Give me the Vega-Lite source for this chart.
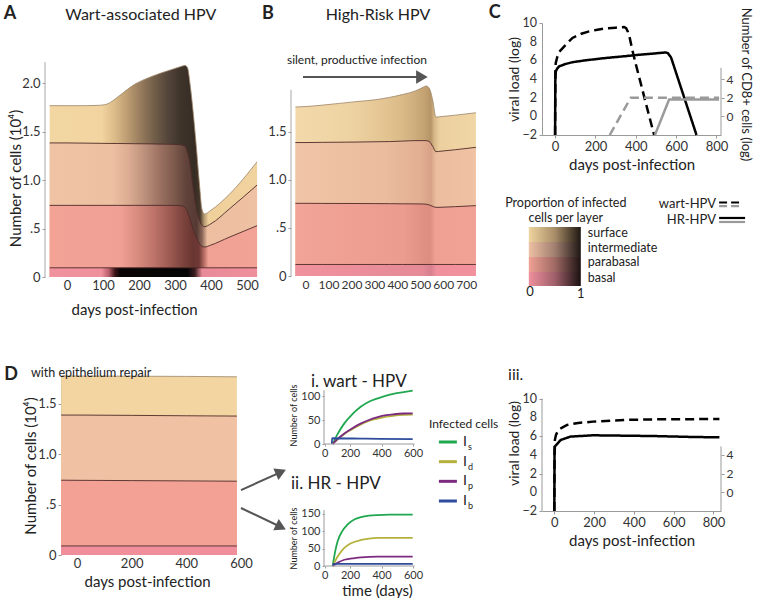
{
 "$schema": "https://vega.github.io/schema/vega-lite/v6.json",
 "padding": {"left": 3, "top": 4, "right": 5, "bottom": 0},
 "background": "white",
 "config": {
  "font": "Lato",
  "view": {"stroke": null},
  "axis": {"labelFont": "Lato", "titleFont": "Lato", "labelFontSize": 13, "titleFontSize": 15, "titleFontWeight": "normal", "labelColor": "#333333", "titleColor": "#222222", "domainColor": "#9a9a9a", "tickColor": "#9a9a9a", "tickSize": 3, "grid": false, "labelPadding": 2, "labelOverlap": false},
  "text": {"font": "Lato", "color": "#222222"}
 },
 "resolve": {"scale": {"color": "independent", "strokeDash": "independent"}},
 "datasets": {
  "wartEpi": [
   {"day": -48, "s": 1.77, "i": 1.385, "p": 0.74, "b": 0.095},
   {"day": 0, "s": 1.77, "i": 1.385, "p": 0.74, "b": 0.095},
   {"day": 50, "s": 1.77, "i": 1.383, "p": 0.74, "b": 0.095},
   {"day": 95, "s": 1.775, "i": 1.381, "p": 0.74, "b": 0.095},
   {"day": 114, "s": 1.79, "i": 1.38, "p": 0.74, "b": 0.095},
   {"day": 141, "s": 1.86, "i": 1.379, "p": 0.74, "b": 0.095},
   {"day": 188, "s": 1.99, "i": 1.377, "p": 0.74, "b": 0.095},
   {"day": 234, "s": 2.07, "i": 1.375, "p": 0.74, "b": 0.095},
   {"day": 280, "s": 2.13, "i": 1.372, "p": 0.74, "b": 0.095},
   {"day": 300, "s": 2.155, "i": 1.37, "p": 0.74, "b": 0.095},
   {"day": 317, "s": 2.175, "i": 1.365, "p": 0.737, "b": 0.095},
   {"day": 328, "s": 2.185, "i": 1.35, "p": 0.72, "b": 0.095},
   {"day": 335, "s": 2.16, "i": 1.29, "p": 0.67, "b": 0.095},
   {"day": 342, "s": 1.99, "i": 1.17, "p": 0.6, "b": 0.095},
   {"day": 349, "s": 1.76, "i": 0.96, "p": 0.51, "b": 0.095},
   {"day": 359, "s": 1.36, "i": 0.72, "p": 0.41, "b": 0.095},
   {"day": 368, "s": 0.96, "i": 0.59, "p": 0.345, "b": 0.095},
   {"day": 375, "s": 0.7, "i": 0.535, "p": 0.315, "b": 0.095},
   {"day": 382, "s": 0.65, "i": 0.52, "p": 0.31, "b": 0.095},
   {"day": 400, "s": 0.69, "i": 0.55, "p": 0.33, "b": 0.095},
   {"day": 450, "s": 0.85, "i": 0.7, "p": 0.41, "b": 0.095},
   {"day": 528, "s": 1.19, "i": 0.95, "p": 0.53, "b": 0.095}
  ],
  "hrEpi": [
   {"day": -46, "s": 1.76, "i": 1.39, "p": 0.757, "b": 0.12},
   {"day": 0, "s": 1.765, "i": 1.39, "p": 0.757, "b": 0.12},
   {"day": 73, "s": 1.78, "i": 1.392, "p": 0.756, "b": 0.12},
   {"day": 218, "s": 1.816, "i": 1.395, "p": 0.755, "b": 0.12},
   {"day": 300, "s": 1.835, "i": 1.398, "p": 0.754, "b": 0.12},
   {"day": 363, "s": 1.86, "i": 1.4, "p": 0.753, "b": 0.12},
   {"day": 420, "s": 1.89, "i": 1.405, "p": 0.752, "b": 0.12},
   {"day": 479, "s": 1.93, "i": 1.41, "p": 0.751, "b": 0.12},
   {"day": 510, "s": 1.965, "i": 1.41, "p": 0.75, "b": 0.12},
   {"day": 523, "s": 1.98, "i": 1.41, "p": 0.748, "b": 0.12},
   {"day": 537, "s": 1.955, "i": 1.4, "p": 0.74, "b": 0.12},
   {"day": 552, "s": 1.83, "i": 1.35, "p": 0.725, "b": 0.12},
   {"day": 566, "s": 1.655, "i": 1.295, "p": 0.715, "b": 0.12},
   {"day": 588, "s": 1.66, "i": 1.3, "p": 0.716, "b": 0.12},
   {"day": 650, "s": 1.675, "i": 1.315, "p": 0.722, "b": 0.12},
   {"day": 740, "s": 1.7, "i": 1.34, "p": 0.733, "b": 0.12}
  ],
  "repairEpi": [
   {"day": -58, "s": 1.778, "i": 1.39, "p": 0.743, "b": 0.09},
   {"day": 0, "s": 1.778, "i": 1.39, "p": 0.742, "b": 0.09},
   {"day": 200, "s": 1.776, "i": 1.387, "p": 0.739, "b": 0.09},
   {"day": 400, "s": 1.774, "i": 1.383, "p": 0.736, "b": 0.09},
   {"day": 585, "s": 1.77, "i": 1.38, "p": 0.733, "b": 0.09}
  ],
  "loadC": [
   {"day": 0, "value": -2, "series": "wart-HPV", "kind": "viral"},
   {"day": 1, "value": 4.5, "series": "wart-HPV", "kind": "viral"},
   {"day": 3, "value": 5.7, "series": "wart-HPV", "kind": "viral"},
   {"day": 10, "value": 6.3, "series": "wart-HPV", "kind": "viral"},
   {"day": 20, "value": 6.9, "series": "wart-HPV", "kind": "viral"},
   {"day": 50, "value": 7.6, "series": "wart-HPV", "kind": "viral"},
   {"day": 86, "value": 8.4, "series": "wart-HPV", "kind": "viral"},
   {"day": 130, "value": 8.85, "series": "wart-HPV", "kind": "viral"},
   {"day": 169, "value": 9.1, "series": "wart-HPV", "kind": "viral"},
   {"day": 210, "value": 9.28, "series": "wart-HPV", "kind": "viral"},
   {"day": 251, "value": 9.42, "series": "wart-HPV", "kind": "viral"},
   {"day": 300, "value": 9.5, "series": "wart-HPV", "kind": "viral"},
   {"day": 342, "value": 9.57, "series": "wart-HPV", "kind": "viral"},
   {"day": 352, "value": 9.45, "series": "wart-HPV", "kind": "viral"},
   {"day": 360, "value": 9.1, "series": "wart-HPV", "kind": "viral"},
   {"day": 370, "value": 8.4, "series": "wart-HPV", "kind": "viral"},
   {"day": 383, "value": 7.1, "series": "wart-HPV", "kind": "viral"},
   {"day": 400, "value": 5.6, "series": "wart-HPV", "kind": "viral"},
   {"day": 450, "value": 1.4, "series": "wart-HPV", "kind": "viral"},
   {"day": 491, "value": -2, "series": "wart-HPV", "kind": "viral"},
   {"day": 0, "value": -2, "series": "HR-HPV", "kind": "viral"},
   {"day": 1, "value": 3.8, "series": "HR-HPV", "kind": "viral"},
   {"day": 3, "value": 4.8, "series": "HR-HPV", "kind": "viral"},
   {"day": 10, "value": 5.1, "series": "HR-HPV", "kind": "viral"},
   {"day": 20, "value": 5.35, "series": "HR-HPV", "kind": "viral"},
   {"day": 50, "value": 5.6, "series": "HR-HPV", "kind": "viral"},
   {"day": 86, "value": 5.8, "series": "HR-HPV", "kind": "viral"},
   {"day": 150, "value": 6.0, "series": "HR-HPV", "kind": "viral"},
   {"day": 251, "value": 6.25, "series": "HR-HPV", "kind": "viral"},
   {"day": 350, "value": 6.45, "series": "HR-HPV", "kind": "viral"},
   {"day": 417, "value": 6.6, "series": "HR-HPV", "kind": "viral"},
   {"day": 500, "value": 6.75, "series": "HR-HPV", "kind": "viral"},
   {"day": 549, "value": 6.85, "series": "HR-HPV", "kind": "viral"},
   {"day": 560, "value": 6.75, "series": "HR-HPV", "kind": "viral"},
   {"day": 575, "value": 6.3, "series": "HR-HPV", "kind": "viral"},
   {"day": 701, "value": -2, "series": "HR-HPV", "kind": "viral"},
   {"day": 271, "value": -2, "series": "wart-HPV", "kind": "CD8"},
   {"day": 375, "value": 2, "series": "wart-HPV", "kind": "CD8"},
   {"day": 813, "value": 2, "series": "wart-HPV", "kind": "CD8"},
   {"day": 495, "value": -2, "series": "HR-HPV", "kind": "CD8"},
   {"day": 565, "value": 1.8, "series": "HR-HPV", "kind": "CD8"},
   {"day": 813, "value": 1.8, "series": "HR-HPV", "kind": "CD8"}
  ],
  "loadIII": [
   {"day": 0, "value": -2, "series": "wart-HPV"},
   {"day": 1, "value": 4.5, "series": "wart-HPV"},
   {"day": 3, "value": 5.6, "series": "wart-HPV"},
   {"day": 8, "value": 6.1, "series": "wart-HPV"},
   {"day": 16, "value": 6.47, "series": "wart-HPV"},
   {"day": 30, "value": 6.8, "series": "wart-HPV"},
   {"day": 64, "value": 7.18, "series": "wart-HPV"},
   {"day": 120, "value": 7.4, "series": "wart-HPV"},
   {"day": 194, "value": 7.54, "series": "wart-HPV"},
   {"day": 355, "value": 7.72, "series": "wart-HPV"},
   {"day": 500, "value": 7.78, "series": "wart-HPV"},
   {"day": 830, "value": 7.82, "series": "wart-HPV"},
   {"day": 0, "value": -2, "series": "HR-HPV"},
   {"day": 1, "value": 4.0, "series": "HR-HPV"},
   {"day": 3, "value": 4.9, "series": "HR-HPV"},
   {"day": 10, "value": 5.05, "series": "HR-HPV"},
   {"day": 32, "value": 5.58, "series": "HR-HPV"},
   {"day": 81, "value": 5.94, "series": "HR-HPV"},
   {"day": 194, "value": 6.08, "series": "HR-HPV"},
   {"day": 355, "value": 6.04, "series": "HR-HPV"},
   {"day": 500, "value": 6.0, "series": "HR-HPV"},
   {"day": 700, "value": 5.9, "series": "HR-HPV"},
   {"day": 830, "value": 5.86, "series": "HR-HPV"}
  ],
  "cellsI": [
   {"day": 90, "count": 0, "type": "Is"}, {"day": 120, "count": 20, "type": "Is"}, {"day": 164, "count": 43, "type": "Is"}, {"day": 215, "count": 62, "type": "Is"}, {"day": 270, "count": 78, "type": "Is"}, {"day": 320, "count": 88, "type": "Is"}, {"day": 376, "count": 95, "type": "Is"}, {"day": 430, "count": 101, "type": "Is"}, {"day": 481, "count": 105, "type": "Is"}, {"day": 540, "count": 108, "type": "Is"}, {"day": 598, "count": 111, "type": "Is"},
   {"day": 90, "count": 0, "type": "Id"}, {"day": 120, "count": 9, "type": "Id"}, {"day": 164, "count": 21, "type": "Id"}, {"day": 215, "count": 31, "type": "Id"}, {"day": 270, "count": 41, "type": "Id"}, {"day": 320, "count": 48, "type": "Id"}, {"day": 376, "count": 53, "type": "Id"}, {"day": 430, "count": 57, "type": "Id"}, {"day": 481, "count": 59, "type": "Id"}, {"day": 540, "count": 60.5, "type": "Id"}, {"day": 598, "count": 61, "type": "Id"},
   {"day": 90, "count": 0, "type": "Ip"}, {"day": 120, "count": 10, "type": "Ip"}, {"day": 164, "count": 22, "type": "Ip"}, {"day": 215, "count": 33, "type": "Ip"}, {"day": 270, "count": 43, "type": "Ip"}, {"day": 320, "count": 50, "type": "Ip"}, {"day": 376, "count": 56, "type": "Ip"}, {"day": 430, "count": 60, "type": "Ip"}, {"day": 481, "count": 62, "type": "Ip"}, {"day": 540, "count": 63.5, "type": "Ip"}, {"day": 598, "count": 64, "type": "Ip"},
   {"day": 85, "count": 0, "type": "Ib"}, {"day": 86, "count": 12, "type": "Ib"}, {"day": 300, "count": 11, "type": "Ib"}, {"day": 598, "count": 10, "type": "Ib"}
  ],
  "cellsII": [
   {"day": 90, "count": 0, "type": "Is"}, {"day": 105, "count": 40, "type": "Is"}, {"day": 122, "count": 72, "type": "Is"}, {"day": 150, "count": 100, "type": "Is"}, {"day": 185, "count": 120, "type": "Is"}, {"day": 230, "count": 135, "type": "Is"}, {"day": 270, "count": 141, "type": "Is"}, {"day": 320, "count": 145, "type": "Is"}, {"day": 376, "count": 147, "type": "Is"}, {"day": 450, "count": 148, "type": "Is"}, {"day": 598, "count": 148, "type": "Is"},
   {"day": 90, "count": 0, "type": "Id"}, {"day": 110, "count": 18, "type": "Id"}, {"day": 130, "count": 33, "type": "Id"}, {"day": 164, "count": 52, "type": "Id"}, {"day": 200, "count": 64, "type": "Id"}, {"day": 270, "count": 75, "type": "Id"}, {"day": 320, "count": 79, "type": "Id"}, {"day": 376, "count": 81, "type": "Id"}, {"day": 598, "count": 81, "type": "Id"},
   {"day": 90, "count": 0, "type": "Ip"}, {"day": 120, "count": 9, "type": "Ip"}, {"day": 164, "count": 18, "type": "Ip"}, {"day": 230, "count": 23, "type": "Ip"}, {"day": 270, "count": 25, "type": "Ip"}, {"day": 376, "count": 27, "type": "Ip"}, {"day": 598, "count": 27, "type": "Ip"},
   {"day": 92, "count": 0, "type": "Ib"}, {"day": 93, "count": 6, "type": "Ib"}, {"day": 598, "count": 6, "type": "Ib"}
  ],
  "cellTypes": [
   {"type": "Is", "sub": "s", "rank": 1},
   {"type": "Id", "sub": "d", "rank": 2},
   {"type": "Ip", "sub": "p", "rank": 3},
   {"type": "Ib", "sub": "b", "rank": 4}
  ],
  "ticksLoad": [{"v": -2}, {"v": 0}, {"v": 2}, {"v": 4}, {"v": 6}, {"v": 8}, {"v": 10}],
  "ticksDaysB": [{"v": 0}, {"v": 100}, {"v": 200}, {"v": 300}, {"v": 400}, {"v": 500}, {"v": 600}, {"v": 700}]
 },
 "columns": 3,
 "align": "each",
 "bounds": "flush",
 "spacing": {"row": 99, "column": 0},
 "concat": [
  {
   "width": 246, "height": 254,
   "data": {"name": "wartEpi"},
   "layer": [
    {"mark": {"type": "area", "interpolate": "monotone", "fillOpacity": 1, "line": {"color": "#9c8468", "strokeWidth": 0.8},
      "fill": {"gradient": "linear", "x1": 0, "y1": 0, "x2": 1, "y2": 0, "stops": [
       {"offset": 0, "color": "#f3d7a3"}, {"offset": 0.25, "color": "#f1d49f"}, {"offset": 0.31, "color": "#ddbd8a"}, {"offset": 0.37, "color": "#bf9f73"}, {"offset": 0.43, "color": "#9c8060"}, {"offset": 0.5, "color": "#74604a"}, {"offset": 0.57, "color": "#54453a"}, {"offset": 0.63, "color": "#3f342a"}, {"offset": 0.7, "color": "#372c24"}, {"offset": 0.725, "color": "#453729"}, {"offset": 0.745, "color": "#b59a72"}, {"offset": 0.765, "color": "#efd09b"}, {"offset": 1, "color": "#f1d39f"}]}},
     "encoding": {
      "x": {"field": "day", "type": "quantitative", "title": "days post-infection", "scale": {"domain": [-61, 622.3]}, "axis": {"values": [0, 100, 200, 300, 400, 500], "domain": false, "ticks": false, "titleX": 89, "titlePadding": 10}},
      "y": {"field": "s", "type": "quantitative", "title": "Number of cells (10⁴)", "scale": {"domain": [0, 2.624]}, "axis": {"values": [0, 0.5, 1, 1.5, 2], "labelExpr": "datum.value == 0 ? '0' : datum.value == 0.5 ? '.5' : format(datum.value, '.1f')", "domain": false, "titleY": 155, "titlePadding": -2}}}},
    {"mark": {"type": "area", "interpolate": "monotone", "fillOpacity": 1, "line": {"color": "#4e2a28", "strokeWidth": 0.9},
      "fill": {"gradient": "linear", "x1": 0, "y1": 0, "x2": 1, "y2": 0, "stops": [
       {"offset": 0, "color": "#f0c3a5"}, {"offset": 0.3, "color": "#eec0a2"}, {"offset": 0.38, "color": "#dcad92"}, {"offset": 0.45, "color": "#bf937e"}, {"offset": 0.53, "color": "#9c7262"}, {"offset": 0.6, "color": "#7d5a4c"}, {"offset": 0.66, "color": "#60423a"}, {"offset": 0.71, "color": "#553a33"}, {"offset": 0.735, "color": "#8a6658"}, {"offset": 0.76, "color": "#edbea0"}, {"offset": 1, "color": "#efc1a3"}]}},
     "encoding": {"x": {"field": "day", "type": "quantitative", "title": "days post-infection", "scale": {"domain": [-61, 622.3]}}, "y": {"field": "i", "type": "quantitative", "title": "Number of cells (10⁴)", "scale": {"domain": [0, 2.624]}}}},
    {"mark": {"type": "area", "interpolate": "monotone", "fillOpacity": 1, "line": {"color": "#4e2a28", "strokeWidth": 0.9},
      "fill": {"gradient": "linear", "x1": 0, "y1": 0, "x2": 1, "y2": 0, "stops": [
       {"offset": 0, "color": "#f3a396"}, {"offset": 0.34, "color": "#f0a094"}, {"offset": 0.42, "color": "#da8c80"}, {"offset": 0.5, "color": "#be746a"}, {"offset": 0.58, "color": "#9c5a52"}, {"offset": 0.64, "color": "#7e453e"}, {"offset": 0.69, "color": "#6a3631"}, {"offset": 0.72, "color": "#6e3934"}, {"offset": 0.745, "color": "#b86e66"}, {"offset": 0.765, "color": "#f1a194"}, {"offset": 1, "color": "#f2a396"}]}},
     "encoding": {"x": {"field": "day", "type": "quantitative", "title": "days post-infection", "scale": {"domain": [-61, 622.3]}}, "y": {"field": "p", "type": "quantitative", "title": "Number of cells (10⁴)", "scale": {"domain": [0, 2.624]}}}},
    {"mark": {"type": "area", "interpolate": "monotone", "fillOpacity": 1, "line": {"color": "#4e2a28", "strokeWidth": 0.9},
      "fill": {"gradient": "linear", "x1": 0, "y1": 0, "x2": 1, "y2": 0, "stops": [
       {"offset": 0, "color": "#f0929e"}, {"offset": 0.25, "color": "#ef909c"}, {"offset": 0.285, "color": "#b85e6c"}, {"offset": 0.315, "color": "#3a1418"}, {"offset": 0.34, "color": "#0a0505"}, {"offset": 0.665, "color": "#050505"}, {"offset": 0.7, "color": "#3a1c20"}, {"offset": 0.735, "color": "#e88a98"}, {"offset": 1, "color": "#f0909c"}]}},
     "encoding": {"x": {"field": "day", "type": "quantitative", "title": "days post-infection", "scale": {"domain": [-61, 622.3]}}, "y": {"field": "b", "type": "quantitative", "title": "Number of cells (10⁴)", "scale": {"domain": [0, 2.624]}}}},
    {"data": {"values": [{}]}, "mark": {"type": "rule", "color": "#a8a8a8", "strokeWidth": 1}, "encoding": {"x": {"datum": -61, "scale": {"domain": [-61, 622.3]}}, "y": {"datum": 0, "scale": {"domain": [0, 2.624]}}, "y2": {"datum": 2.22}}},
    {"data": {"values": [{}]}, "mark": {"type": "text", "text": "A", "fontSize": 18, "fontWeight": "bold"}, "encoding": {"x": {"datum": -158, "scale": {"domain": [-61, 622.3]}}, "y": {"datum": 2.717, "scale": {"domain": [0, 2.624]}}}},
    {"data": {"values": [{}]}, "mark": {"type": "text", "text": "Wart-associated HPV", "fontSize": 16}, "encoding": {"x": {"datum": 205, "scale": {"domain": [-61, 622.3]}}, "y": {"datum": 2.707, "scale": {"domain": [0, 2.624]}}}}
   ]
  },
  {
   "width": 251, "height": 253,
   "data": {"name": "hrEpi"},
   "layer": [
    {"mark": {"type": "area", "interpolate": "monotone", "fillOpacity": 1, "line": {"color": "#9c8468", "strokeWidth": 0.8},
      "fill": {"gradient": "linear", "x1": 0, "y1": 0, "x2": 1, "y2": 0, "stops": [
       {"offset": 0, "color": "#f3d9aa"}, {"offset": 0.3, "color": "#eed3a2"}, {"offset": 0.45, "color": "#e6c896"}, {"offset": 0.58, "color": "#dbbc89"}, {"offset": 0.66, "color": "#cfae7d"}, {"offset": 0.72, "color": "#c2a070"}, {"offset": 0.75, "color": "#b59468"}, {"offset": 0.77, "color": "#d7b886"}, {"offset": 0.8, "color": "#ecd0a0"}, {"offset": 1, "color": "#f0d5a5"}]}},
     "encoding": {
      "x": {"field": "day", "type": "quantitative", "title": null, "scale": {"domain": [-65.3, 1027.9]}, "axis": {"values": [0, 100, 200, 300, 400, 500, 600, 700], "labels": false, "domain": false, "ticks": false}},
      "y": {"field": "s", "type": "quantitative", "title": null, "scale": {"domain": [0, 2.635]}, "axis": {"values": [0, 0.5, 1, 1.5], "labelExpr": "datum.value == 0 ? '0' : datum.value == 0.5 ? '.5' : format(datum.value, '.1f')", "domain": false}}}},
    {"mark": {"type": "area", "interpolate": "monotone", "fillOpacity": 1, "line": {"color": "#4e2a28", "strokeWidth": 0.9},
      "fill": {"gradient": "linear", "x1": 0, "y1": 0, "x2": 1, "y2": 0, "stops": [
       {"offset": 0, "color": "#f0c4a6"}, {"offset": 0.5, "color": "#ebbc9e"}, {"offset": 0.7, "color": "#e2ae92"}, {"offset": 0.75, "color": "#d6a186"}, {"offset": 0.78, "color": "#ecbd9f"}, {"offset": 1, "color": "#f0c2a4"}]}},
     "encoding": {"x": {"field": "day", "type": "quantitative", "title": null, "scale": {"domain": [-65.3, 1027.9]}}, "y": {"field": "i", "type": "quantitative", "title": null, "scale": {"domain": [0, 2.635]}}}},
    {"mark": {"type": "area", "interpolate": "monotone", "fillOpacity": 1, "line": {"color": "#4e2a28", "strokeWidth": 0.9},
      "fill": {"gradient": "linear", "x1": 0, "y1": 0, "x2": 1, "y2": 0, "stops": [
       {"offset": 0, "color": "#f1a497"}, {"offset": 0.6, "color": "#ec9c8e"}, {"offset": 0.745, "color": "#dd8d80"}, {"offset": 0.775, "color": "#efa092"}, {"offset": 1, "color": "#f1a295"}]}},
     "encoding": {"x": {"field": "day", "type": "quantitative", "title": null, "scale": {"domain": [-65.3, 1027.9]}}, "y": {"field": "p", "type": "quantitative", "title": null, "scale": {"domain": [0, 2.635]}}}},
    {"mark": {"type": "area", "interpolate": "monotone", "fillOpacity": 1, "line": {"color": "#4e2a28", "strokeWidth": 0.9},
      "fill": {"gradient": "linear", "x1": 0, "y1": 0, "x2": 1, "y2": 0, "stops": [
       {"offset": 0, "color": "#f0929e"}, {"offset": 0.7, "color": "#e68a97"}, {"offset": 0.75, "color": "#d8808f"}, {"offset": 0.78, "color": "#ef909c"}, {"offset": 1, "color": "#f0919d"}]}},
     "encoding": {"x": {"field": "day", "type": "quantitative", "title": null, "scale": {"domain": [-65.3, 1027.9]}}, "y": {"field": "b", "type": "quantitative", "title": null, "scale": {"domain": [0, 2.635]}}}},
    {"data": {"name": "ticksDaysB"}, "mark": {"type": "text", "fontSize": 12, "baseline": "top", "dy": 4, "color": "#333333"},
     "encoding": {"x": {"field": "v", "type": "quantitative", "title": null, "scale": {"domain": [-65.3, 1027.9]}}, "y": {"datum": 0, "scale": {"domain": [0, 2.635]}}, "text": {"field": "v", "type": "quantitative", "format": "d"}}},
    {"data": {"values": [{}]}, "mark": {"type": "rule", "color": "#a8a8a8", "strokeWidth": 1}, "encoding": {"x": {"datum": -65.3, "scale": {"domain": [-65.3, 1027.9]}}, "y": {"datum": 0, "scale": {"domain": [0, 2.635]}}, "y2": {"datum": 1.94}}},
    {"data": {"values": [{}]}, "mark": {"type": "text", "text": "B", "fontSize": 18, "fontWeight": "bold"}, "encoding": {"x": {"datum": -165.5, "scale": {"domain": [-65.3, 1027.9]}}, "y": {"datum": 2.729, "scale": {"domain": [0, 2.635]}}}},
    {"data": {"values": [{}]}, "mark": {"type": "text", "text": "High-Risk HPV", "fontSize": 16}, "encoding": {"x": {"datum": 313.6, "scale": {"domain": [-65.3, 1027.9]}}, "y": {"datum": 2.72, "scale": {"domain": [0, 2.635]}}}},
    {"data": {"values": [{}]}, "mark": {"type": "text", "text": "silent, productive  infection", "fontSize": 12}, "encoding": {"x": {"datum": 222, "scale": {"domain": [-65.3, 1027.9]}}, "y": {"datum": 2.25, "scale": {"domain": [0, 2.635]}}}},
    {"data": {"values": [{}]}, "mark": {"type": "rule", "color": "#555555", "strokeWidth": 2}, "encoding": {"x": {"datum": -13, "scale": {"domain": [-65.3, 1027.9]}}, "x2": {"datum": 505}, "y": {"datum": 2.073, "scale": {"domain": [0, 2.635]}}}},
    {"data": {"values": [{}]}, "mark": {"type": "point", "shape": "triangle-right", "filled": true, "color": "#555555", "opacity": 1, "size": 180}, "encoding": {"x": {"datum": 505, "scale": {"domain": [-65.3, 1027.9]}}, "y": {"datum": 2.073, "scale": {"domain": [0, 2.635]}}}}
   ]
  },
  {
   "width": 179, "height": 112,
   "layer": [
    {"layer": [
     {"data": {"name": "loadC"}, "transform": [{"filter": "datum.kind == 'viral'"}], "mark": {"type": "line", "strokeWidth": 2.5},
      "encoding": {
       "x": {"field": "day", "type": "quantitative", "title": "days post-infection", "scale": {"domain": [-65, 822.5]}, "axis": {"values": [0, 200, 400, 600, 800], "titlePadding": 4}},
       "y": {"field": "value", "type": "quantitative", "title": "viral load (log)", "scale": {"domain": [-2, 10]}, "axis": {"values": [-2, 0, 2, 4, 6, 8, 10], "labels": false, "titlePadding": 17, "titleFontSize": 14}},
       "color": {"field": "kind", "type": "nominal", "scale": {"domain": ["viral", "CD8"], "range": ["#000000", "#9a9a9a"]}, "legend": null},
       "strokeDash": {"field": "series", "type": "nominal", "scale": {"domain": ["wart-HPV", "HR-HPV"], "range": [[9, 5], [1, 0]]}, "legend": null}}},
     {"data": {"name": "ticksLoad"}, "mark": {"type": "text", "fontSize": 12.5, "align": "right", "dx": -5, "color": "#333333"},
      "encoding": {"x": {"datum": -65, "scale": {"domain": [-65, 822.5]}}, "y": {"field": "v", "type": "quantitative", "title": "viral load (log)", "scale": {"domain": [-2, 10]}}, "text": {"field": "v", "type": "quantitative", "format": "d"}}},
     {"data": {"values": [{}]}, "mark": {"type": "rect", "fill": {"gradient": "linear", "x1": 0, "y1": 0, "x2": 1, "y2": 0, "stops": [{"offset": 0, "color": "#efd49f"}, {"offset": 0.5, "color": "#a88d68"}, {"offset": 1, "color": "#1e1712"}]}}, "encoding": {"x": {"datum": -130.4, "scale": {"domain": [-65, 822.5]}}, "x2": {"datum": 127.4}, "y": {"datum": -11.86, "scale": {"domain": [-2, 10]}}, "y2": {"datum": -13.46}}},
     {"data": {"values": [{}]}, "mark": {"type": "rect", "fill": {"gradient": "linear", "x1": 0, "y1": 0, "x2": 1, "y2": 0, "stops": [{"offset": 0, "color": "#eec0a3"}, {"offset": 0.5, "color": "#a17f70"}, {"offset": 1, "color": "#1e1614"}]}}, "encoding": {"x": {"datum": -130.4, "scale": {"domain": [-65, 822.5]}}, "x2": {"datum": 127.4}, "y": {"datum": -13.46, "scale": {"domain": [-2, 10]}}, "y2": {"datum": -15.07}}},
     {"data": {"values": [{}]}, "mark": {"type": "rect", "fill": {"gradient": "linear", "x1": 0, "y1": 0, "x2": 1, "y2": 0, "stops": [{"offset": 0, "color": "#f0a194"}, {"offset": 0.5, "color": "#a06a64"}, {"offset": 1, "color": "#1c1212"}]}}, "encoding": {"x": {"datum": -130.4, "scale": {"domain": [-65, 822.5]}}, "x2": {"datum": 127.4}, "y": {"datum": -15.07, "scale": {"domain": [-2, 10]}}, "y2": {"datum": -16.68}}},
     {"data": {"values": [{}]}, "mark": {"type": "rect", "fill": {"gradient": "linear", "x1": 0, "y1": 0, "x2": 1, "y2": 0, "stops": [{"offset": 0, "color": "#ef8f9d"}, {"offset": 0.5, "color": "#a0606a"}, {"offset": 1, "color": "#1a1010"}]}}, "encoding": {"x": {"datum": -130.4, "scale": {"domain": [-65, 822.5]}}, "x2": {"datum": 127.4}, "y": {"datum": -16.68, "scale": {"domain": [-2, 10]}}, "y2": {"datum": -18.18}}},
     {"data": {"values": [{}]}, "mark": {"type": "text", "text": ["Proportion of infected", "cells per layer"], "fontSize": 12.5, "lineHeight": 15}, "encoding": {"x": {"datum": 53, "scale": {"domain": [-65, 822.5]}}, "y": {"datum": -9.29, "scale": {"domain": [-2, 10]}}}},
     {"data": {"values": [{}]}, "mark": {"type": "text", "text": "surface", "fontSize": 12.5, "align": "left"}, "encoding": {"x": {"datum": 162, "scale": {"domain": [-65, 822.5]}}, "y": {"datum": -12.5, "scale": {"domain": [-2, 10]}}}},
     {"data": {"values": [{}]}, "mark": {"type": "text", "text": "intermediate", "fontSize": 12.5, "align": "left"}, "encoding": {"x": {"datum": 162, "scale": {"domain": [-65, 822.5]}}, "y": {"datum": -14.11, "scale": {"domain": [-2, 10]}}}},
     {"data": {"values": [{}]}, "mark": {"type": "text", "text": "parabasal", "fontSize": 12.5, "align": "left"}, "encoding": {"x": {"datum": 162, "scale": {"domain": [-65, 822.5]}}, "y": {"datum": -15.61, "scale": {"domain": [-2, 10]}}}},
     {"data": {"values": [{}]}, "mark": {"type": "text", "text": "basal", "fontSize": 12.5, "align": "left"}, "encoding": {"x": {"datum": 162, "scale": {"domain": [-65, 822.5]}}, "y": {"datum": -17.32, "scale": {"domain": [-2, 10]}}}},
     {"data": {"values": [{}]}, "mark": {"type": "text", "text": "0", "fontSize": 13}, "encoding": {"x": {"datum": -125, "scale": {"domain": [-65, 822.5]}}, "y": {"datum": -18.82, "scale": {"domain": [-2, 10]}}}},
     {"data": {"values": [{}]}, "mark": {"type": "text", "text": "1", "fontSize": 13}, "encoding": {"x": {"datum": 127, "scale": {"domain": [-65, 822.5]}}, "y": {"datum": -19.04, "scale": {"domain": [-2, 10]}}}},
     {"data": {"values": [{}]}, "mark": {"type": "text", "text": "wart-HPV", "fontSize": 13, "align": "right"}, "encoding": {"x": {"datum": 798, "scale": {"domain": [-65, 822.5]}}, "y": {"datum": -9.39, "scale": {"domain": [-2, 10]}}}},
     {"data": {"values": [{}]}, "mark": {"type": "text", "text": "HR-HPV", "fontSize": 13, "align": "right"}, "encoding": {"x": {"datum": 798, "scale": {"domain": [-65, 822.5]}}, "y": {"datum": -11.11, "scale": {"domain": [-2, 10]}}}},
     {"data": {"values": [{}]}, "mark": {"type": "rule", "color": "#000000", "strokeWidth": 2.2, "strokeDash": [8, 4]}, "encoding": {"x": {"datum": 813, "scale": {"domain": [-65, 822.5]}}, "x2": {"datum": 912}, "y": {"datum": -9.23, "scale": {"domain": [-2, 10]}}}},
     {"data": {"values": [{}]}, "mark": {"type": "rule", "color": "#9a9a9a", "strokeWidth": 2.2, "strokeDash": [8, 4]}, "encoding": {"x": {"datum": 813, "scale": {"domain": [-65, 822.5]}}, "x2": {"datum": 912}, "y": {"datum": -9.61, "scale": {"domain": [-2, 10]}}}},
     {"data": {"values": [{}]}, "mark": {"type": "rule", "color": "#000000", "strokeWidth": 2.2}, "encoding": {"x": {"datum": 813, "scale": {"domain": [-65, 822.5]}}, "x2": {"datum": 942}, "y": {"datum": -10.89, "scale": {"domain": [-2, 10]}}}},
     {"data": {"values": [{}]}, "mark": {"type": "rule", "color": "#9a9a9a", "strokeWidth": 2.2}, "encoding": {"x": {"datum": 813, "scale": {"domain": [-65, 822.5]}}, "x2": {"datum": 942}, "y": {"datum": -11.32, "scale": {"domain": [-2, 10]}}}},
     {"data": {"values": [{}]}, "mark": {"type": "text", "text": "C", "fontSize": 18, "fontWeight": "bold"}, "encoding": {"x": {"datum": -299, "scale": {"domain": [-65, 822.5]}}, "y": {"datum": 11.07, "scale": {"domain": [-2, 10]}}}}
    ]},
    {"layer": [
     {"data": {"name": "loadC"}, "transform": [{"filter": "datum.kind == 'CD8'"}], "mark": {"type": "line", "strokeWidth": 2.5},
      "encoding": {
       "x": {"field": "day", "type": "quantitative", "title": "days post-infection", "scale": {"domain": [-65, 822.5]}},
       "y": {"field": "value", "type": "quantitative", "title": "Number of CD8+ cells (log)", "scale": {"domain": [-2, 10]}, "axis": {"orient": "right", "values": [0, 2, 4], "labelFontSize": 12, "domain": false, "titleY": 61, "titlePadding": 6, "titleFontSize": 13}},
       "color": {"field": "kind", "type": "nominal", "legend": null},
       "strokeDash": {"field": "series", "type": "nominal", "legend": null}}},
     {"data": {"values": [{}]}, "mark": {"type": "rule", "color": "#9a9a9a"}, "encoding": {"x": {"datum": 822.5, "scale": {"domain": [-65, 822.5]}}, "y": {"datum": -2, "scale": {"domain": [-2, 10]}}, "y2": {"datum": 5.2}}}
    ]}
   ],
   "resolve": {"scale": {"y": "independent"}}
  },
  {
   "width": 246, "height": 179,
   "data": {"name": "repairEpi"},
   "layer": [
    {"mark": {"type": "area", "interpolate": "monotone", "fill": "#f2d5a1", "fillOpacity": 1, "line": {"color": "#9c8468", "strokeWidth": 0.8}},
     "encoding": {
      "x": {"field": "day", "type": "quantitative", "title": "days post-infection", "scale": {"domain": [-117.1, 783]}, "axis": {"values": [0, 200, 400, 600], "domain": false, "ticks": false, "titleX": 102, "titlePadding": 4}},
      "y": {"field": "s", "type": "quantitative", "title": "Number of cells (10⁴)", "scale": {"domain": [0, 1.778]}, "axis": {"values": [0, 0.5, 1, 1.5], "labelExpr": "datum.value == 0 ? '0' : datum.value == 0.5 ? '.5' : format(datum.value, '.1f')", "offset": -16, "titlePadding": -1}}}},
    {"mark": {"type": "area", "interpolate": "monotone", "fill": "#f0c1a3", "fillOpacity": 1, "line": {"color": "#4e2a28", "strokeWidth": 0.9}},
     "encoding": {"x": {"field": "day", "type": "quantitative", "title": "days post-infection", "scale": {"domain": [-117.1, 783]}}, "y": {"field": "i", "type": "quantitative", "title": "Number of cells (10⁴)", "scale": {"domain": [0, 1.778]}}}},
    {"mark": {"type": "area", "interpolate": "monotone", "fill": "#f2a194", "fillOpacity": 1, "line": {"color": "#4e2a28", "strokeWidth": 0.9}},
     "encoding": {"x": {"field": "day", "type": "quantitative", "title": "days post-infection", "scale": {"domain": [-117.1, 783]}}, "y": {"field": "p", "type": "quantitative", "title": "Number of cells (10⁴)", "scale": {"domain": [0, 1.778]}}}},
    {"mark": {"type": "area", "interpolate": "monotone", "fill": "#f08f9b", "fillOpacity": 1, "line": {"color": "#4e2a28", "strokeWidth": 0.9}},
     "encoding": {"x": {"field": "day", "type": "quantitative", "title": "days post-infection", "scale": {"domain": [-117.1, 783]}}, "y": {"field": "b", "type": "quantitative", "title": "Number of cells (10⁴)", "scale": {"domain": [0, 1.778]}}}},
    {"data": {"values": [{}]}, "mark": {"type": "rule", "color": "#555555", "strokeWidth": 2}, "encoding": {"x": {"datum": 600, "scale": {"domain": [-117.1, 783]}}, "x2": {"datum": 746}, "y": {"datum": 0.645, "scale": {"domain": [0, 1.778]}}, "y2": {"datum": 0.824}}},
    {"data": {"values": [{}]}, "mark": {"type": "point", "shape": "triangle-right", "filled": true, "color": "#555555", "opacity": 1, "size": 160, "angle": 336}, "encoding": {"x": {"datum": 746, "scale": {"domain": [-117.1, 783]}}, "y": {"datum": 0.824, "scale": {"domain": [0, 1.778]}}}},
    {"data": {"values": [{}]}, "mark": {"type": "rule", "color": "#555555", "strokeWidth": 2}, "encoding": {"x": {"datum": 600, "scale": {"domain": [-117.1, 783]}}, "x2": {"datum": 746}, "y": {"datum": 0.467, "scale": {"domain": [0, 1.778]}}, "y2": {"datum": 0.278}}},
    {"data": {"values": [{}]}, "mark": {"type": "point", "shape": "triangle-right", "filled": true, "color": "#555555", "opacity": 1, "size": 160, "angle": 26}, "encoding": {"x": {"datum": 746, "scale": {"domain": [-117.1, 783]}}, "y": {"datum": 0.278, "scale": {"domain": [0, 1.778]}}}},
    {"data": {"values": [{}]}, "mark": {"type": "text", "text": "D", "fontSize": 18, "fontWeight": "bold"}, "encoding": {"x": {"datum": -241.5, "scale": {"domain": [-117.1, 783]}}, "y": {"datum": 1.787, "scale": {"domain": [0, 1.778]}}}},
    {"data": {"values": [{}]}, "mark": {"type": "text", "text": "with epithelium repair", "fontSize": 12.5, "align": "left"}, "encoding": {"x": {"datum": -168.3, "scale": {"domain": [-117.1, 783]}}, "y": {"datum": 1.807, "scale": {"domain": [0, 1.778]}}}}
   ]
  },
  {
   "width": 251, "height": 190,
   "layer": [
    {"layer": [
     {"data": {"name": "cellsI"}, "mark": {"type": "line", "interpolate": "monotone", "strokeWidth": 1.8},
      "encoding": {
       "x": {"field": "day", "type": "quantitative", "title": null, "scale": {"domain": [-174.6, 1419]}, "axis": {"orient": "bottom", "values": [40, 200, 400, 600], "labelExpr": "datum.value < 100 ? '0' : datum.label", "domain": false, "offset": -122, "labelFontSize": 11, "tickSize": 2, "labelPadding": 1}},
       "y": {"field": "count", "type": "quantitative", "title": "Number of cells", "scale": {"domain": [-254.17, 141.67]}, "axis": {"orient": "left", "values": [0, 50, 100], "domain": false, "offset": -33, "labelFontSize": 11, "titleFontSize": 9, "tickSize": 2, "titleY": 39, "titlePadding": 2}},
       "color": {"field": "type", "type": "nominal", "scale": {"domain": ["Is", "Id", "Ip", "Ib"], "range": ["#1fa84f", "#b4b23c", "#7c2a80", "#2f4c9d"]}, "legend": null}}},
     {"data": {"values": [{}]}, "mark": {"type": "rule", "color": "#9a9a9a"}, "encoding": {"x": {"datum": 35, "scale": {"domain": [-174.6, 1419]}}, "y": {"datum": 0, "scale": {"domain": [-254.17, 141.67]}}, "y2": {"datum": 112}}},
     {"data": {"values": [{}]}, "mark": {"type": "rule", "color": "#9a9a9a"}, "encoding": {"x": {"datum": 35, "scale": {"domain": [-174.6, 1419]}}, "x2": {"datum": 610}, "y": {"datum": 0, "scale": {"domain": [-254.17, 141.67]}}}},
     {"data": {"values": [{}]}, "mark": {"type": "text", "text": "i. wart - HPV", "fontSize": 17, "align": "left"}, "encoding": {"x": {"datum": -47.6, "scale": {"domain": [-174.6, 1419]}}, "y": {"datum": 129.2, "scale": {"domain": [-254.17, 141.67]}}}}
    ]},
    {"layer": [
     {"data": {"name": "cellsII"}, "mark": {"type": "line", "interpolate": "monotone", "strokeWidth": 1.8},
      "encoding": {
       "x": {"field": "day", "type": "quantitative", "title": "time (days)", "scale": {"domain": [-174.6, 1419]}, "axis": {"orient": "bottom", "values": [40, 200, 400, 600], "labelExpr": "datum.value < 100 ? '0' : datum.label", "domain": false, "labelFontSize": 11, "tickSize": 2, "labelPadding": 1, "titleX": 86, "titlePadding": 3}},
       "y": {"field": "count", "type": "quantitative", "title": "Number of cells", "scale": {"domain": [0, 548]}, "axis": {"orient": "left", "values": [0, 50, 100, 150], "domain": false, "offset": -33, "labelFontSize": 11, "titleFontSize": 9, "tickSize": 2, "titleY": 162, "titlePadding": 2}},
       "color": {"field": "type", "type": "nominal", "scale": {"domain": ["Is", "Id", "Ip", "Ib"], "range": ["#1fa84f", "#b4b23c", "#7c2a80", "#2f4c9d"]}, "legend": null}}},
     {"data": {"values": [{}]}, "mark": {"type": "rule", "color": "#9a9a9a"}, "encoding": {"x": {"datum": 35, "scale": {"domain": [-174.6, 1419]}}, "y": {"datum": 0, "scale": {"domain": [0, 548]}}, "y2": {"datum": 161.5}}},
     {"data": {"values": [{}]}, "mark": {"type": "rule", "color": "#9a9a9a"}, "encoding": {"x": {"datum": 35, "scale": {"domain": [-174.6, 1419]}}, "x2": {"datum": 610}, "y": {"datum": 0, "scale": {"domain": [0, 548]}}}},
     {"data": {"values": [{}]}, "mark": {"type": "text", "text": "ii. HR - HPV", "fontSize": 17, "align": "left"}, "encoding": {"x": {"datum": -174.6, "scale": {"domain": [-174.6, 1419]}}, "y": {"datum": 236.5, "scale": {"domain": [0, 548]}}}}
    ]},
    {"layer": [
     {"data": {"name": "cellTypes"}, "mark": {"type": "rule", "strokeWidth": 3},
      "encoding": {
       "x": {"datum": 0.16, "scale": {"domain": [-2.226, 1.823]}, "axis": null},
       "x2": {"datum": 0.45},
       "y": {"field": "rank", "type": "quantitative", "scale": {"domain": [-2.355, 7.304], "reverse": true}, "axis": null},
       "color": {"field": "type", "type": "nominal", "scale": {"domain": ["Is", "Id", "Ip", "Ib"], "range": ["#1fa84f", "#b4b23c", "#7c2a80", "#2f4c9d"]}, "legend": null}}},
     {"data": {"name": "cellTypes"}, "mark": {"type": "text", "text": "I", "fontSize": 14, "align": "left", "color": "#222222"},
      "encoding": {"x": {"datum": 0.55, "scale": {"domain": [-2.226, 1.823]}, "axis": null}, "y": {"field": "rank", "type": "quantitative", "scale": {"domain": [-2.355, 7.304], "reverse": true}, "axis": null}}},
     {"data": {"name": "cellTypes"}, "mark": {"type": "text", "fontSize": 9, "align": "left", "dx": 5, "dy": 5, "color": "#222222"},
      "encoding": {"x": {"datum": 0.55, "scale": {"domain": [-2.226, 1.823]}, "axis": null}, "y": {"field": "rank", "type": "quantitative", "scale": {"domain": [-2.355, 7.304], "reverse": true}, "axis": null}, "text": {"field": "sub"}}},
     {"data": {"values": [{}]}, "mark": {"type": "text", "text": "Infected cells", "fontSize": 12, "align": "left", "color": "#222222"},
      "encoding": {"x": {"datum": 0, "scale": {"domain": [-2.226, 1.823]}, "axis": null}, "y": {"datum": 0.1, "scale": {"domain": [-2.355, 7.304], "reverse": true}, "axis": null}}}
    ]}
   ],
   "resolve": {"scale": {"x": "independent", "y": "independent"}}
  },
  {
   "width": 179, "height": 135,
   "layer": [
    {"layer": [
     {"data": {"name": "loadIII"}, "mark": {"type": "line", "strokeWidth": 2.5, "color": "#000000"},
      "encoding": {
       "x": {"field": "day", "type": "quantitative", "title": "days post-infection", "scale": {"domain": [-62, 838]}, "axis": {"values": [0, 200, 400, 600, 800], "titlePadding": 4}},
       "y": {"field": "value", "type": "quantitative", "title": "viral load (log)", "scale": {"domain": [-2, 12.41]}, "axis": {"values": [-2, 0, 2, 4, 6, 8, 10], "labels": false, "domain": false, "titleY": 67, "titlePadding": 17, "titleFontSize": 14}},
       "strokeDash": {"field": "series", "type": "nominal", "scale": {"domain": ["wart-HPV", "HR-HPV"], "range": [[9, 5], [1, 0]]}, "legend": null}}},
     {"data": {"name": "ticksLoad"}, "mark": {"type": "text", "fontSize": 12.5, "align": "right", "dx": -5, "color": "#333333"},
      "encoding": {"x": {"datum": -62, "scale": {"domain": [-62, 838]}}, "y": {"field": "v", "type": "quantitative", "title": "viral load (log)", "scale": {"domain": [-2, 12.41]}}, "text": {"field": "v", "type": "quantitative", "format": "d"}}},
     {"data": {"values": [{}]}, "mark": {"type": "rule", "color": "#9a9a9a"}, "encoding": {"x": {"datum": -62, "scale": {"domain": [-62, 838]}}, "y": {"datum": -2, "scale": {"domain": [-2, 12.41]}}, "y2": {"datum": 10}}},
     {"data": {"values": [{}]}, "mark": {"type": "text", "text": "iii.", "fontSize": 16, "align": "left"}, "encoding": {"x": {"datum": -232.7, "scale": {"domain": [-62, 838]}}, "y": {"datum": 12.52, "scale": {"domain": [-2, 12.41]}}}}
    ]},
    {"layer": [
     {"data": {"values": [{}]}, "mark": {"type": "rule", "color": "#9a9a9a"},
      "encoding": {"x": {"datum": 838, "scale": {"domain": [-62, 838]}}, "y": {"datum": -2, "title": "Number of CD8+ cells (log)", "scale": {"domain": [-2, 12.41]}, "axis": {"orient": "right", "values": [0, 2, 4], "labelFontSize": 12, "domain": false, "titleY": 84, "titlePadding": 6, "titleFontSize": 13}}, "y2": {"datum": 4.9}}}
    ]}
   ],
   "resolve": {"scale": {"y": "independent"}}
  }
 ]
}
